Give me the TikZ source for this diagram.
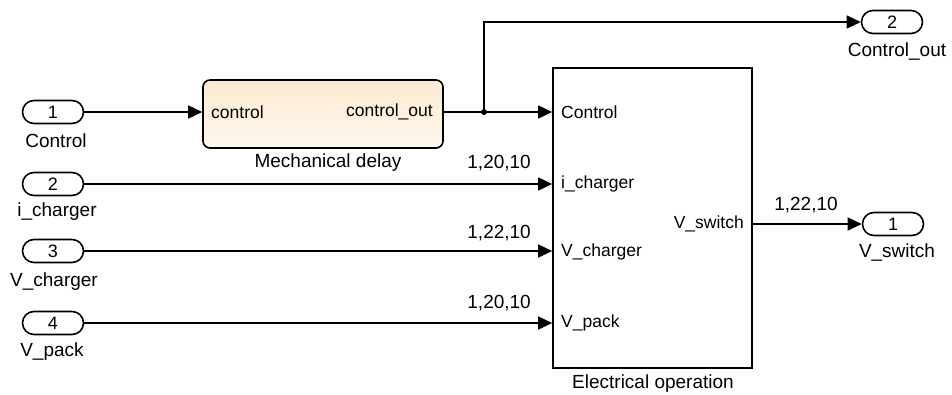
\documentclass[tikz,border=0pt]{standalone}
\usepackage{fontspec}
\setmainfont{Liberation Sans}
\usetikzlibrary{arrows.meta}
\definecolor{mdtop}{RGB}{252,234,208}
\definecolor{mdbot}{RGB}{255,248,238}
\begin{document}
\begin{tikzpicture}[x=1pt,y=-1pt,
  port/.style={draw,line width=1.6pt,rounded corners=11.5pt,minimum width=61pt,minimum height=23pt,inner sep=0pt,font=\fontsize{18}{20}\selectfont},
  lbl/.style={font=\fontsize{19}{21}\selectfont,inner sep=0pt},
  plbl/.style={font=\fontsize{17.5}{19}\selectfont,inner sep=0pt},
  sig/.style={line width=1.6pt,-{Triangle[length=14pt,width=13pt]}},
  wire/.style={line width=1.6pt}]
\useasboundingbox (0,0) rectangle (952,394);
% inports
\node[port] (in1) at (53,112) {1};
\node[port] (in2) at (53,184) {2};
\node[port] (in3) at (53,251) {3};
\node[port] (in4) at (53,323) {4};
\node[lbl] (l1) at (56,141) {Control};
\node[lbl] (l2) at (57,212) {i\_charger};
\node[lbl] (l3) at (54,282) {V\_charger};
\node[lbl] (l4) at (52,352) {V\_pack};
% mechanical delay
\node[draw,line width=1.6pt,rounded corners=7pt,top color=mdtop,bottom color=mdbot,minimum width=240pt,minimum height=68pt,inner sep=0pt] (md) at (323,114) {};
\node[plbl,anchor=west] (mdi) at (211,112) {control};
\node[plbl,anchor=east] (mdo) at (433,112) {control\_out};
\node[lbl] (mdl) at (328,163) {Mechanical delay};
% electrical operation
\node[draw,line width=1.6pt,minimum width=199pt,minimum height=300pt,inner sep=0pt] (eo) at (652.5,218) {};
\node[plbl,anchor=west] (e1) at (561,112) {Control};
\node[plbl,anchor=west] (e2) at (561,184) {i\_charger};
\node[plbl,anchor=west] (e3) at (561,252) {V\_charger};
\node[plbl,anchor=west] (e4) at (561,323) {V\_pack};
\node[plbl,anchor=east] (e5) at (744,224) {V\_switch};
\node[lbl] (eol) at (653,384) {Electrical operation};
% outports
\node[port] (out2) at (892,22) {2};
\node[lbl] (ol2) at (897,52) {Control\_out};
\node[port] (out1) at (893,224) {1};
\node[lbl] (ol1) at (897,252) {V\_switch};
% signal labels
\node[lbl,anchor=east] (s2) at (531,163) {1,20,10};
\node[lbl,anchor=east] (s3) at (531,233) {1,22,10};
\node[lbl,anchor=east] (s4) at (531,303) {1,20,10};
\node[lbl] (s5) at (806,205) {1,22,10};
% connectors
\coordinate (br) at (484,112);
\draw[sig] (in1.east) -- (md.west |- in1.east);
\draw[wire] (md.east |- br) -- (br);
\draw[sig] (br) -- (eo.west |- br);
\draw[sig] (br) |- (out2.west);
\fill (br) circle (3pt);
\draw[sig] (in2.east) -- (eo.west |- in2.east);
\draw[sig] (in3.east) -- (eo.west |- in3.east);
\draw[sig] (in4.east) -- (eo.west |- in4.east);
\draw[sig] (eo.east |- out1.west) -- (out1.west);
\end{tikzpicture}
\end{document}
